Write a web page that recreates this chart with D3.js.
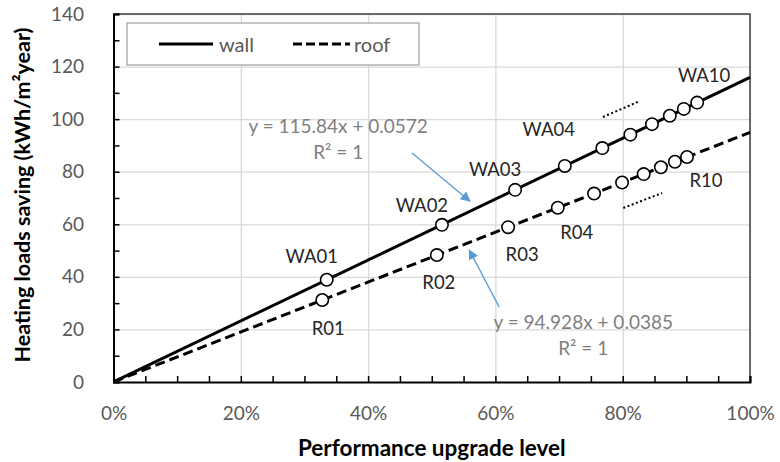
<!DOCTYPE html>
<html>
<head>
<meta charset="utf-8">
<script src="https://cdn.jsdelivr.net/npm/d3@7"></script>
<style>
  body { margin: 0; background: #fff; }
  svg text { font-family: Lato, "Open Sans", sans-serif; }
</style>
</head>
<body>
<div id="chart"></div>
<script>
// ---- data ----
const wallNames = ['WA01', 'WA02', 'WA03', 'WA04', 'WA05', 'WA06', 'WA07', 'WA08', 'WA09', 'WA10'];
const wallX = [0.335, 0.516, 0.631, 0.709, 0.768, 0.812, 0.846, 0.874, 0.896, 0.917];
const wallY = [38.9, 59.8, 73.1, 82.2, 89.0, 94.1, 98.1, 101.3, 103.9, 106.3];
const roofNames = ['R01', 'R02', 'R03', 'R04', 'R05', 'R06', 'R07', 'R08', 'R09', 'R10'];
const roofX = [0.328, 0.508, 0.620, 0.698, 0.755, 0.799, 0.833, 0.860, 0.882, 0.901];
const roofY = [31.2, 48.3, 58.9, 66.3, 71.7, 75.9, 79.1, 81.7, 83.8, 85.6];
// trendline coefficients [slope, intercept]
const wallFit = [115.84, 0.0572];
const roofFit = [94.928, 0.0385];
const wallEq = ['y = 115.84x + 0.0572', 'R² = 1'];
const roofEq = ['y = 94.928x + 0.0385', 'R² = 1'];
const yTicks = [0, 20, 40, 60, 80, 100, 120, 140];
const xTicks = [0, 0.2, 0.4, 0.6, 0.8, 1];
const seriesNames = ['wall', 'roof'];

// ---- layout ----
const width = 780;
const height = 462;
const margin = { top: 14, right: 30, bottom: 80, left: 113.5 };
const innerW = width - margin.left - margin.right;
const innerH = height - margin.top - margin.bottom;

const x = d3.scaleLinear().domain([0, 1]).range([0, innerW]);
const y = d3.scaleLinear().domain([0, 140]).range([innerH, 0]);

const svg = d3.select('#chart').append('svg')
  .attr('width', width)
  .attr('height', height)
  .style('background', '#fff');

const g = svg.append('g')
  .attr('transform', `translate(${margin.left},${margin.top})`);

// gridlines
g.append('g')
  .attr('class', 'grid')
  .call(d3.axisLeft(y).tickValues(yTicks.slice(1)).tickSize(-innerW).tickFormat(''))
  .call(s => s.select('.domain').remove())
  .call(s => s.selectAll('line').attr('stroke', '#d9d9d9').attr('stroke-width', 1.3));
g.append('g')
  .attr('class', 'grid')
  .attr('transform', `translate(0,${innerH})`)
  .call(d3.axisBottom(x).tickValues(xTicks.slice(1)).tickSize(-innerH).tickFormat(''))
  .call(s => s.select('.domain').remove())
  .call(s => s.selectAll('line').attr('stroke', '#d9d9d9').attr('stroke-width', 1.3));

// plot border (top / right)
g.append('path')
  .attr('d', `M0,0H${innerW}V${innerH}`)
  .attr('fill', 'none')
  .attr('stroke', '#404040')
  .attr('stroke-width', 1.5);

// axes with inside minor ticks
const yMinor = d3.range(0, 141, 10);
const xMinor = d3.range(0, 21).map(i => i / 20);

const yAxis = g.append('g')
  .call(d3.axisLeft(y).tickValues(yMinor).tickSize(-6).tickPadding(29.5)
    .tickFormat(d => (yTicks.includes(d) ? d : '')));
const xAxis = g.append('g')
  .attr('transform', `translate(0,${innerH})`)
  .call(d3.axisBottom(x).tickValues(xMinor).tickSize(-6).tickPadding(24.5)
    .tickFormat(d => (xTicks.some(t => Math.abs(t - d) < 1e-9) ? d3.format('.0%')(d) : '')));

[yAxis, xAxis].forEach((ax) => {
  ax.select('.domain').attr('stroke', '#000').attr('stroke-width', 2);
  ax.selectAll('.tick line').attr('stroke', '#000').attr('stroke-width', 1.5);
  ax.selectAll('.tick text')
    .attr('fill', '#595959')
    .style('font-size', '19px');
});

// trendlines
const line = d3.line().x(d => x(d[0])).y(d => y(d[1]));
const fitPoints = fit => [[0, fit[1]], [1, fit[0] + fit[1]]];

g.append('path')
  .datum(fitPoints(wallFit))
  .attr('d', line)
  .attr('fill', 'none')
  .attr('stroke', '#000')
  .attr('stroke-width', 3);

g.append('path')
  .datum(fitPoints(roofFit))
  .attr('d', line)
  .attr('fill', 'none')
  .attr('stroke', '#000')
  .attr('stroke-width', 3)
  .attr('stroke-dasharray', '10,5');

// markers
const addMarkers = (xs, ys) => {
  g.append('g').selectAll('circle')
    .data(xs.map((v, i) => [v, ys[i]]))
    .join('circle')
    .attr('cx', d => x(d[0]))
    .attr('cy', d => y(d[1]))
    .attr('r', 6.2)
    .attr('fill', '#fff')
    .attr('stroke', '#000')
    .attr('stroke-width', 1.6);
};
addMarkers(wallX, wallY);
addMarkers(roofX, roofY);

// point labels: which points get a label, and its pixel offset from the marker
const labelOffsets = {
  WA01: [-15, -24], WA02: [-20, -20], WA03: [-20, -21], WA04: [-16, -37], WA10: [7, -28],
  R01: [6, 28], R02: [2, 27], R03: [14, 27], R04: [19, 24], R10: [19, 23],
};
const addLabels = (names, xs, ys) => {
  names.forEach((n, i) => {
    const off = labelOffsets[n];
    if (!off) return;
    g.append('text')
      .attr('x', x(xs[i]) + off[0])
      .attr('y', y(ys[i]) + off[1])
      .attr('text-anchor', 'middle')
      .attr('dominant-baseline', 'central')
      .attr('fill', '#262626')
      .style('font-size', '18.5px')
      .text(n);
  });
};
addLabels(wallNames, wallX, wallY);
addLabels(roofNames, roofX, roofY);

// dotted continuation marks
const dotted = [
  [[0.769, 100.8], [0.827, 106.9]],
  [[0.801, 66.2], [0.862, 71.9]],
];
dotted.forEach((seg) => {
  g.append('path')
    .datum(seg)
    .attr('d', line)
    .attr('stroke', '#000')
    .attr('stroke-width', 2)
    .attr('stroke-dasharray', '2,2.5');
});

// trendline equations
const addEquation = (lines, cx, cy) => {
  lines.forEach((t, i) => {
    g.append('text')
      .attr('x', x(cx))
      .attr('y', y(cy) + i * 26)
      .attr('text-anchor', 'middle')
      .attr('fill', '#7f7f7f')
      .style('font-size', '19px')
      .text(t);
  });
};
addEquation(wallEq, 0.353, 94.6);
addEquation(roofEq, 0.738, 20.1);

// callout arrows
svg.append('defs').append('marker')
  .attr('id', 'head')
  .attr('viewBox', '0 0 10 10')
  .attr('refX', 9)
  .attr('refY', 5)
  .attr('markerWidth', 14)
  .attr('markerHeight', 10)
  .attr('markerUnits', 'userSpaceOnUse')
  .attr('orient', 'auto')
  .append('path')
  .attr('d', 'M0,0L10,5L0,10Z')
  .attr('fill', '#5b9bd5');

const arrows = [
  [[0.469, 87.1], [0.560, 68.8]],
  [[0.606, 28.5], [0.559, 50.2]],
];
arrows.forEach((seg) => {
  g.append('path')
    .datum(seg)
    .attr('d', line)
    .attr('stroke', '#5b9bd5')
    .attr('stroke-width', 1.3)
    .attr('marker-end', 'url(#head)');
});

// legend
const legend = svg.append('g');
legend.append('rect')
  .attr('x', 127).attr('y', 23)
  .attr('width', 292).attr('height', 42)
  .attr('fill', '#fff')
  .attr('stroke', '#a6a6a6')
  .attr('stroke-width', 1.3);
const legendItems = [
  { x1: 159, x2: 213, tx: 219, dash: null },
  { x1: 293, x2: 350, tx: 354, dash: '9,4' },
];
legendItems.forEach((it, i) => {
  legend.append('line')
    .attr('x1', it.x1).attr('x2', it.x2)
    .attr('y1', 44).attr('y2', 44)
    .attr('stroke', '#000')
    .attr('stroke-width', 3)
    .attr('stroke-dasharray', it.dash);
  legend.append('text')
    .attr('x', it.tx)
    .attr('y', 44)
    .attr('dominant-baseline', 'central')
    .attr('fill', '#595959')
    .style('font-size', '20px')
    .text(seriesNames[i]);
});

// axis titles
svg.append('text')
  .attr('x', margin.left + innerW / 2)
  .attr('y', 456)
  .attr('text-anchor', 'middle')
  .attr('fill', '#000')
  .style('font-size', '22.5px')
  .style('font-weight', 'bold')
  .text('Performance upgrade level');

svg.append('text')
  .attr('transform', `translate(30,${margin.top + innerH / 2 - 3}) rotate(-90)`)
  .attr('text-anchor', 'middle')
  .attr('fill', '#000')
  .style('font-size', '21.5px')
  .style('font-weight', 'bold')
  .text('Heating loads saving (kWh/m²year)');
</script>
</body>
</html>
